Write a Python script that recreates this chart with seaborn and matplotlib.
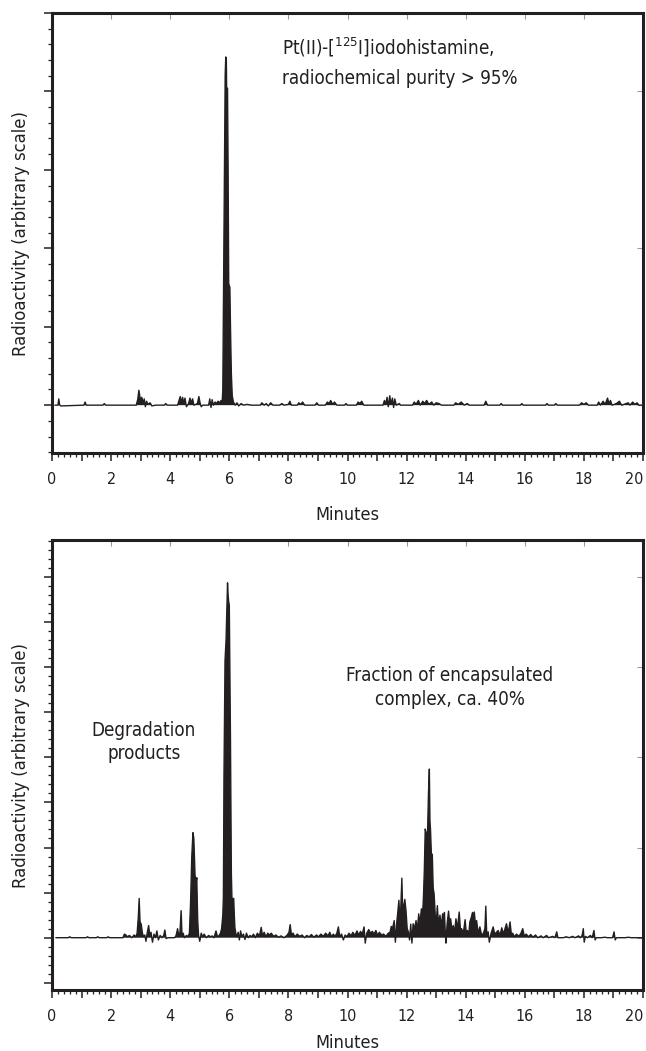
import matplotlib
matplotlib.use("Agg")
import matplotlib.pyplot as plt
import numpy as np
import seaborn as sns
from matplotlib import font_manager
from matplotlib.ticker import MultipleLocator, NullFormatter, FuncFormatter

# --- top trace: Pt(II)-[125I]iodohistamine (time in min, activity in arbitrary units)
top_min = [
    0.10, 0.20, 0.23, 0.26, 0.30, 1.08, 1.12, 1.16, 1.72, 1.77,
    1.82, 2.85, 2.90, 2.94, 2.97, 3.00, 3.04, 3.08, 3.12, 3.16,
    3.20, 3.25, 3.32, 3.38, 3.50, 3.80, 3.85, 3.90, 4.25, 4.30,
    4.34, 4.38, 4.42, 4.46, 4.50, 4.55, 4.62, 4.67, 4.71, 4.76,
    4.80, 4.92, 4.97, 5.01, 5.05, 5.10, 5.30, 5.34, 5.38, 5.42,
    5.46, 5.52, 5.56, 5.62, 5.68, 5.72, 5.76,
    # main peak
    5.78, 5.80, 5.83, 5.86, 5.88, 5.90, 5.91, 5.94, 5.96, 5.98,
    6.02, 6.04, 6.07, 6.10, 6.14,
    6.20, 6.26, 6.32, 6.40, 6.48, 6.60, 6.75, 7.05, 7.10, 7.18,
    7.25, 7.32, 7.40, 7.48, 7.70, 7.78, 7.85, 8.00, 8.05, 8.10,
    8.30, 8.35, 8.42, 8.48, 8.55, 8.90, 8.96, 9.02, 9.25, 9.32,
    9.38, 9.43, 9.50, 9.56, 9.64, 9.90, 9.95, 10.00, 10.30, 10.36,
    10.42, 10.48, 10.55, 11.20, 11.25, 11.30, 11.34, 11.38, 11.43, 11.47,
    11.52, 11.56, 11.60, 11.65, 11.75, 11.80, 12.20, 12.26, 12.32, 12.40,
    12.46, 12.55, 12.60, 12.68, 12.75, 12.85, 12.92, 13.00, 13.10, 13.18,
    13.60, 13.66, 13.75, 13.85, 13.95, 14.05, 14.12, 14.62, 14.68, 14.74,
    15.15, 15.20, 15.25, 15.85, 15.90, 15.95, 16.70, 16.75, 16.80, 17.00,
    17.05, 17.10, 17.85, 17.92, 18.00, 18.08, 18.15, 18.45, 18.50, 18.56,
    18.65, 18.72, 18.80, 18.85, 18.90, 18.95, 19.10, 19.20, 19.28, 19.50,
    19.56, 19.65, 19.72, 19.80, 19.86, 20.00,
]
top_act = [
    0.00, 0.00, 0.08, 0.00, -0.01, 0.00, 0.04, 0.00, 0.00, 0.02,
    0.00, 0.00, 0.07, 0.19, 0.12, 0.05, 0.10, 0.02, 0.08, -0.02,
    0.05, 0.01, 0.03, -0.01, 0.00, 0.00, 0.02, 0.00, 0.00, 0.06,
    0.11, 0.03, 0.10, 0.02, 0.09, -0.02, 0.02, 0.09, 0.03, 0.08,
    0.00, 0.02, 0.11, 0.03, -0.02, 0.00, 0.00, 0.08, -0.03, 0.07,
    0.00, 0.04, 0.02, 0.05, 0.03, 0.06, 0.04,
    # main peak
    0.20, 1.20, 2.80, 4.20, 4.44, 4.40, 4.05, 4.04, 3.00, 1.55,
    1.50, 1.00, 0.40, 0.12, 0.04,
    0.00, 0.03, -0.01, 0.02, 0.00, 0.01, 0.00, 0.00, 0.03, 0.00,
    0.02, -0.01, 0.03, 0.00, 0.00, 0.02, 0.00, 0.01, 0.05, 0.00,
    0.00, 0.03, 0.01, 0.04, 0.00, 0.00, 0.03, 0.00, 0.00, 0.04,
    0.02, 0.06, 0.01, 0.04, 0.00, 0.00, 0.02, 0.00, 0.00, 0.04,
    0.02, 0.05, 0.00, 0.00, 0.06, 0.02, 0.10, -0.02, 0.12, 0.01,
    0.09, -0.03, 0.08, 0.00, 0.02, 0.00, 0.00, 0.04, 0.01, 0.06,
    0.00, 0.05, 0.02, 0.06, 0.01, 0.04, 0.00, 0.03, 0.02, 0.00,
    0.00, 0.03, 0.01, 0.04, 0.00, 0.02, 0.00, 0.00, 0.05, 0.00,
    0.00, 0.02, 0.00, 0.00, 0.02, 0.00, 0.00, 0.02, 0.00, 0.00,
    0.02, 0.00, 0.00, 0.03, 0.01, 0.03, 0.00, 0.00, 0.04, 0.00,
    0.05, 0.01, 0.09, 0.02, 0.06, 0.00, 0.02, 0.05, 0.00, 0.03,
    0.00, 0.04, 0.01, 0.03, 0.00, 0.00,
]

# --- bottom trace: liposome fraction
bot_min = [
    0.13, 0.55, 0.60, 0.65, 1.15, 1.20, 1.25, 1.50, 1.55, 1.60,
    1.85, 1.90, 1.95, 2.40, 2.45, 2.50, 2.55, 2.62, 2.70, 2.78,
    2.84, 2.88, 2.92, 2.95, 2.98, 3.02, 3.06, 3.10, 3.14, 3.18,
    3.22, 3.27, 3.31, 3.35, 3.40, 3.45, 3.50, 3.55, 3.60, 3.66,
    3.72, 3.78, 3.82, 3.86, 3.92, 4.15, 4.20, 4.25, 4.29, 4.33,
    4.37, 4.40, 4.44, 4.48, 4.55, 4.60, 4.65, 4.69, 4.73, 4.77,
    4.80, 4.84, 4.87, 4.90, 4.93, 4.96, 5.00, 5.05, 5.10, 5.15,
    5.22, 5.30, 5.36, 5.42, 5.48, 5.55, 5.60, 5.66, 5.70, 5.74,
    # main peak
    5.78, 5.80, 5.82, 5.855, 5.89, 5.92, 5.94, 5.96, 5.98, 6.00,
    6.02, 6.04, 6.07, 6.09, 6.15, 6.17, 6.19, 6.22, 6.25,
    6.30, 6.34, 6.38, 6.43, 6.48, 6.53, 6.58, 6.64, 6.70, 6.76,
    6.82, 6.88, 6.95, 7.02, 7.08, 7.12, 7.18, 7.24, 7.30, 7.36,
    7.42, 7.50, 7.58, 7.66, 7.75, 7.85, 7.95, 8.02, 8.06, 8.10,
    8.16, 8.22, 8.30, 8.38, 8.46, 8.55, 8.62, 8.70, 8.78, 8.86,
    8.95, 9.02, 9.10, 9.18, 9.26, 9.34, 9.40, 9.46, 9.52, 9.58,
    9.64, 9.69, 9.74, 9.80, 9.86, 9.92, 9.98, 10.05, 10.12, 10.18,
    10.25, 10.32, 10.38, 10.44, 10.50, 10.56, 10.60, 10.65, 10.72, 10.78,
    10.84, 10.90, 10.96, 11.02, 11.08, 11.15, 11.22, 11.30, 11.38, 11.44,
    # encapsulated complex
    11.48, 11.53, 11.58, 11.62, 11.66, 11.70, 11.74, 11.77, 11.80, 11.84,
    11.87, 11.90, 11.94, 11.98, 12.02, 12.06, 12.10, 12.14, 12.18, 12.22,
    12.27, 12.32, 12.36, 12.41, 12.45, 12.50, 12.54, 12.57, 12.60, 12.63,
    12.67, 12.71, 12.74, 12.77, 12.79, 12.81, 12.84, 12.87, 12.90, 12.93,
    12.97, 13.00, 13.04, 13.08, 13.13, 13.17, 13.22, 13.26, 13.28, 13.31,
    13.33, 13.37, 13.42, 13.46, 13.49, 13.54, 13.58, 13.62, 13.67, 13.72,
    13.78, 13.82, 13.86, 13.92, 13.98, 14.02, 14.06, 14.10, 14.14, 14.19,
    14.23, 14.26, 14.29, 14.33, 14.37, 14.42, 14.48, 14.54, 14.60, 14.65,
    14.68, 14.71, 14.76, 14.80, 14.86, 14.93, 14.98, 15.04, 15.10, 15.16,
    15.22, 15.28, 15.33, 15.38, 15.44, 15.50, 15.55, 15.59, 15.65, 15.72,
    15.80, 15.87, 15.93, 15.98, 16.05, 16.12, 16.20, 16.28, 16.36, 16.44,
    16.55, 16.62, 16.74, 16.80, 16.95, 17.02, 17.08, 17.12, 17.30, 17.40,
    17.50, 17.62, 17.70, 17.82, 17.88, 17.94, 17.98, 18.01, 18.05, 18.12,
    18.22, 18.28, 18.34, 18.38, 18.42, 18.60, 18.70, 18.80, 18.97, 19.02,
    19.06, 19.10, 19.40, 19.50, 19.60, 20.00,
]
bot_act = [
    0.00, 0.00, 0.02, 0.00, 0.00, 0.02, 0.00, 0.00, 0.02, 0.00,
    0.00, 0.02, 0.00, 0.00, 0.08, 0.06, 0.02, 0.05, 0.00, 0.06,
    0.02, 0.10, 0.45, 0.87, 0.35, 0.30, 0.10, 0.02, 0.06, -0.08,
    0.10, 0.27, 0.05, 0.12, -0.10, 0.08, 0.00, 0.15, -0.05, 0.05,
    0.00, 0.05, 0.17, -0.02, 0.00, 0.00, 0.05, 0.20, 0.05, 0.12,
    0.60, 0.05, 0.10, 0.00, 0.05, 0.02, 0.10, 0.80, 1.80, 2.33,
    2.20, 1.40, 1.20, 1.33, 0.40, 0.05, -0.08, 0.10, 0.02, 0.08,
    0.00, 0.05, 0.02, 0.04, 0.00, 0.15, 0.02, 0.05, 0.10, 0.20,
    # main peak
    0.50, 0.90, 3.60, 6.15, 6.60, 7.33, 7.87, 7.60, 7.45, 7.38,
    6.00, 4.40, 1.42, 0.87, 0.87, 0.50, 0.22, 0.10, 0.02,
    0.12, -0.05, 0.15, 0.02, 0.08, -0.04, 0.10, 0.00, 0.05, 0.02,
    0.08, 0.00, 0.10, 0.04, 0.23, 0.05, 0.12, 0.02, 0.10, 0.06,
    0.10, 0.03, 0.06, 0.01, 0.04, 0.00, 0.05, 0.12, 0.29, 0.08,
    0.10, 0.02, 0.08, 0.03, 0.06, 0.00, 0.05, 0.02, 0.07, 0.01,
    0.06, 0.02, 0.08, 0.03, 0.10, 0.04, 0.12, 0.02, 0.08, 0.03,
    0.10, 0.24, 0.02, 0.08, -0.05, 0.06, 0.02, 0.10, 0.04, 0.12,
    0.05, 0.15, 0.06, 0.14, 0.08, 0.24, -0.12, 0.10, 0.18, 0.10,
    0.14, 0.08, 0.16, 0.05, 0.12, 0.06, 0.08, 0.03, 0.10, 0.12,
    # encapsulated complex
    0.25, 0.22, 0.38, -0.10, 0.30, 0.55, 0.83, 0.40, 0.60, 1.32,
    0.50, 0.70, 0.85, 0.60, 0.20, 0.13, -0.05, 0.30, -0.12, 0.31,
    0.20, 0.38, 0.15, 0.53, 0.30, 0.64, 0.50, 0.90, 1.50, 2.41,
    2.30, 2.35, 3.20, 3.74, 2.60, 2.39, 1.83, 1.85, 1.10, 0.98,
    0.50, 0.27, 0.71, 0.30, 0.50, 0.25, 0.53, 0.30, 0.56, 0.10,
    -0.12, 0.30, 0.59, 0.30, 0.42, 0.15, 0.27, 0.10, 0.42, 0.20,
    0.57, 0.20, 0.20, 0.10, 0.40, 0.10, 0.16, 0.05, 0.35, 0.45,
    0.56, 0.45, 0.57, 0.30, 0.38, 0.10, 0.24, 0.05, 0.10, 0.20,
    0.70, 0.10, 0.13, -0.10, 0.10, 0.24, 0.08, 0.12, 0.16, 0.05,
    0.22, 0.08, 0.20, 0.31, 0.10, 0.35, 0.05, 0.10, 0.02, 0.08,
    0.03, 0.10, 0.20, 0.04, 0.08, 0.02, 0.07, 0.01, 0.06, 0.00,
    0.04, 0.00, 0.05, 0.00, 0.03, 0.00, 0.13, 0.00, 0.00, 0.02,
    0.00, 0.03, 0.00, 0.04, 0.00, 0.05, 0.20, -0.10, 0.03, 0.00,
    0.05, 0.00, 0.16, -0.05, 0.00, 0.00, 0.01, 0.00, 0.00, 0.13,
    -0.05, 0.00, 0.00, 0.01, 0.00, 0.00,
]

assert len(top_min) == len(top_act)
assert len(bot_min) == len(bot_act)

ink = "#231f20"

sns.set_theme(style="ticks")
names = {f.name for f in font_manager.fontManager.ttflist}
if "Liberation Sans Narrow" in names:
    fam = "Liberation Sans Narrow"
    plt.rcParams["font.stretch"] = "normal"
else:
    fam = "DejaVu Sans"
    plt.rcParams["font.stretch"] = "condensed"
plt.rcParams["font.family"] = [fam, "DejaVu Sans"]
plt.rcParams["mathtext.fontset"] = "custom"
plt.rcParams["mathtext.rm"] = fam
plt.rcParams["text.color"] = ink
plt.rcParams["axes.labelcolor"] = ink
plt.rcParams["xtick.color"] = ink
plt.rcParams["ytick.color"] = ink

fig = plt.figure(figsize=(6.46, 10.51), dpi=100)
W, H = 646, 1051
ax_top = fig.add_axes([52 / W, 1 - 453 / H, 591 / W, 440 / H])
ax_bot = fig.add_axes([52 / W, 1 - 990 / H, 591 / W, 450 / H])


def even_label(x, pos):
    n = int(round(x))
    return str(n) if n % 2 == 0 else ""


def draw_trace(ax, t, v, ylim, xlabelpad):
    t = np.asarray(t)
    v = np.asarray(v)
    ax.fill_between(t, 0, v, where=v > 0, interpolate=True, color=ink, lw=0)
    sns.lineplot(x=t, y=v, ax=ax, color=ink, lw=1.0, estimator=None)
    ax.set_xlim(0, 20)
    ax.set_ylim(*ylim)

    ax.xaxis.set_major_locator(MultipleLocator(1))
    ax.xaxis.set_minor_locator(MultipleLocator(0.2))
    ax.xaxis.set_major_formatter(FuncFormatter(even_label))
    ax.yaxis.set_major_locator(MultipleLocator(1))
    ax.yaxis.set_minor_locator(MultipleLocator(0.2))
    ax.yaxis.set_major_formatter(NullFormatter())

    for sp in ax.spines.values():
        sp.set_linewidth(2.2)
        sp.set_color(ink)
    ax.tick_params(which="major", length=6, width=1.1, direction="out",
                   labelsize=11.5, pad=8)
    ax.tick_params(which="minor", length=3, width=0.9, direction="out")

    # small inward marks on top and right frame
    sec_x = ax.secondary_xaxis("top")
    sec_x.xaxis.set_major_locator(MultipleLocator(2))
    sec_x.tick_params(direction="in", length=4, width=0.8, colors="#999999",
                      labeltop=False)
    sec_x.spines["top"].set_visible(False)
    sec_y = ax.secondary_yaxis("right")
    sec_y.yaxis.set_major_locator(MultipleLocator(2))
    sec_y.tick_params(direction="in", length=4, width=0.8, colors="#999999",
                      labelright=False)
    sec_y.spines["right"].set_visible(False)

    ax.set_xlabel("Minutes", fontsize=13, labelpad=xlabelpad)
    ax.set_ylabel("Radioactivity (arbitrary scale)", fontsize=13.2)
    ax.yaxis.set_label_coords(-0.037, 0.5)


draw_trace(ax_top, top_min, top_act, (-0.61, 5.0), 13.5)
draw_trace(ax_bot, bot_min, bot_act, (-1.16, 8.82), 7)

ax_top.text(7.78, 4.47, r"Pt(II)-[$^{\mathregular{125}}$I]iodohistamine,",
            fontsize=13.5, ha="left", va="baseline")
ax_top.text(7.78, 4.10, "radiochemical purity > 95%",
            fontsize=13.5, ha="left", va="baseline")

ax_bot.text(3.11, 4.48, "Degradation", fontsize=13.5, ha="center", va="baseline")
ax_bot.text(3.11, 3.96, "products", fontsize=13.5, ha="center", va="baseline")
ax_bot.text(13.47, 5.70, "Fraction of encapsulated", fontsize=13.5,
            ha="center", va="baseline")
ax_bot.text(13.47, 5.15, "complex, ca. 40%", fontsize=13.5,
            ha="center", va="baseline")

# keep the last "20" label inside the figure, as in the original
fig.canvas.draw()
for ax in (ax_top, ax_bot):
    for tk in ax.xaxis.get_major_ticks():
        if abs(tk.get_loc() - 20) < 1e-6:
            tk.label1.set_horizontalalignment("right")

fig.savefig("out.png", dpi=100)
